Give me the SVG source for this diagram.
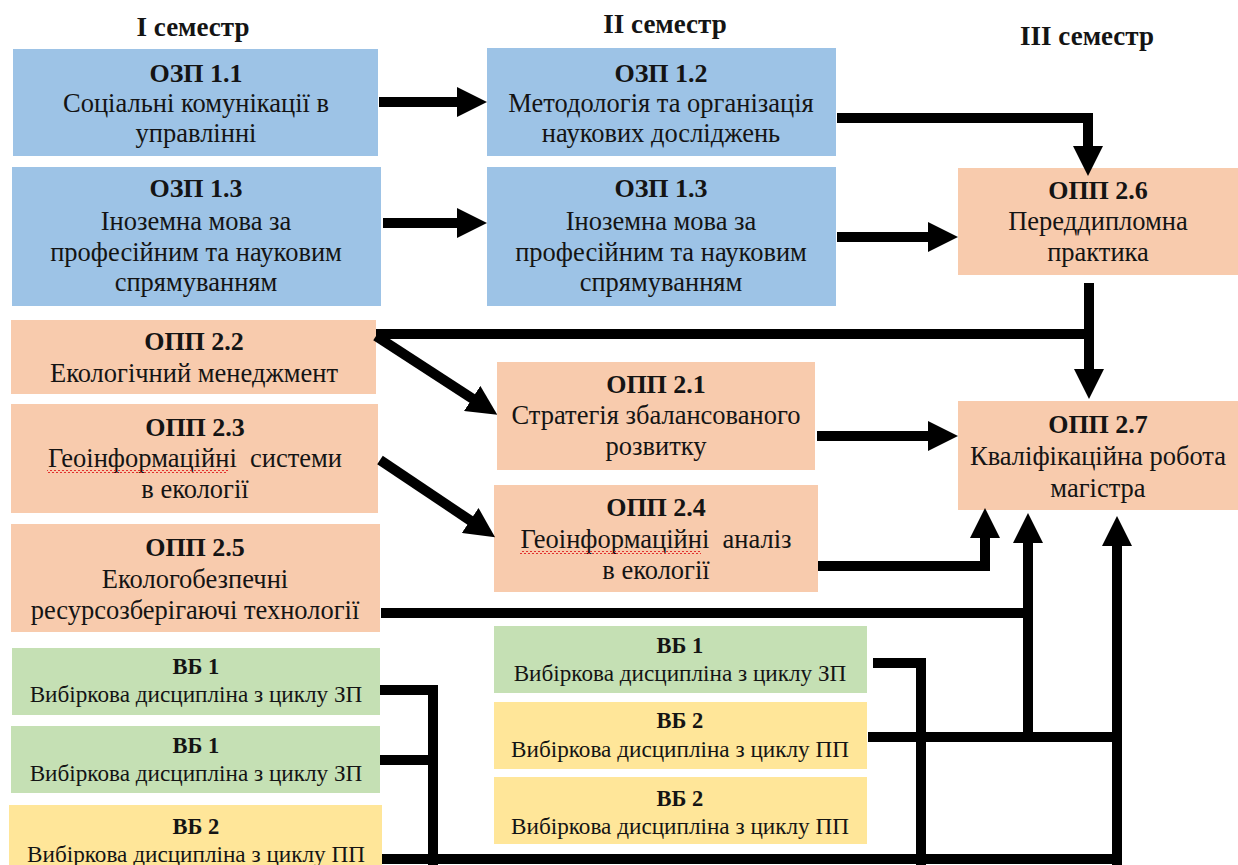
<svg xmlns="http://www.w3.org/2000/svg" width="1238" height="865" viewBox="0 0 1238 865">
<style>
.t{font-family:"Liberation Serif","DejaVu Serif",serif;fill:#141414;text-anchor:middle}
.h{font-size:27px;font-weight:bold}
.b{font-size:26px;font-weight:bold}
.r{font-size:26.5px}
.vb{font-size:22.5px;font-weight:bold}
.vr{font-size:23.2px}
.blue{fill:#9DC3E6}.org{fill:#F8CBAD}.grn{fill:#C5E0B4}.yel{fill:#FFE699}
.c{fill:none;stroke:#000;stroke-width:10;stroke-linejoin:miter}
.a{marker-end:url(#ah)}
</style>
<defs>
<marker id="ah" viewBox="0 0 30 30" markerWidth="30" markerHeight="30" markerUnits="userSpaceOnUse" refX="1" refY="15" orient="auto">
<path d="M0,0 L30,15 L0,30 Z" fill="#000"/>
</marker>
<pattern id="sq" width="4" height="3" patternUnits="userSpaceOnUse">
<path d="M0,2 Q1,0 2,2 T4,2" fill="none" stroke="#e02020" stroke-width="0.9"/>
</pattern>
</defs>
<rect width="1238" height="865" fill="#fff"/>
<g id="headers">
<text class="t h" x="193" y="36">I семестр</text>
<text class="t h" x="665" y="33">II семестр</text>
<text class="t h" x="1087" y="45">III семестр</text>
</g>
<g id="ozp11"><rect class="blue" x="13" y="49" width="365" height="107"/>
<text class="t b" x="196" y="82">ОЗП 1.1</text>
<text class="t r" x="196" y="112">Соціальні комунікації в</text>
<text class="t r" x="196" y="142">управлінні</text></g>
<g id="ozp13a"><rect class="blue" x="12" y="167" width="369" height="139"/>
<text class="t b" x="196" y="197">ОЗП 1.3</text>
<text class="t r" x="196" y="230">Іноземна мова за</text>
<text class="t r" x="196" y="261">професійним та науковим</text>
<text class="t r" x="196" y="291">спрямуванням</text></g>
<g id="ozp12"><rect class="blue" x="487" y="48" width="349" height="108"/>
<text class="t b" x="661" y="82">ОЗП 1.2</text>
<text class="t r" x="661" y="112">Методологія та організація</text>
<text class="t r" x="661" y="142">наукових досліджень</text></g>
<g id="ozp13b"><rect class="blue" x="487" y="167" width="349" height="139"/>
<text class="t b" x="661" y="197">ОЗП 1.3</text>
<text class="t r" x="661" y="230">Іноземна мова за</text>
<text class="t r" x="661" y="261">професійним та науковим</text>
<text class="t r" x="661" y="291">спрямуванням</text></g>
<g id="opp26"><rect class="org" x="958" y="168" width="280" height="107"/>
<text class="t b" x="1098" y="199">ОПП 2.6</text>
<text class="t r" x="1098" y="230">Переддипломна</text>
<text class="t r" x="1098" y="261">практика</text></g>
<g id="opp22"><rect class="org" x="11" y="320" width="365" height="74"/>
<text class="t b" x="194" y="350">ОПП 2.2</text>
<text class="t r" x="194" y="382">Екологічний менеджмент</text></g>
<g id="opp23"><rect class="org" x="11" y="404" width="367" height="109"/>
<text class="t b" x="195" y="436">ОПП 2.3</text>
<text class="t r" x="195" y="467" xml:space="preserve">Геоінформаційні  системи</text>
<text class="t r" x="195" y="498">в екології</text>
<rect x="47" y="470" width="181" height="3" fill="url(#sq)"/></g>
<g id="opp25"><rect class="org" x="11" y="524" width="369" height="108"/>
<text class="t b" x="195" y="556">ОПП 2.5</text>
<text class="t r" x="195" y="588">Екологобезпечні</text>
<text class="t r" x="195" y="619">ресурсозберігаючі технології</text></g>
<g id="opp21"><rect class="org" x="497" y="362" width="318" height="108"/>
<text class="t b" x="656" y="393">ОПП 2.1</text>
<text class="t r" x="656" y="424">Стратегія збалансованого</text>
<text class="t r" x="656" y="455">розвитку</text></g>
<g id="opp24"><rect class="org" x="494" y="485" width="324" height="107"/>
<text class="t b" x="656" y="516">ОПП 2.4</text>
<text class="t r" x="656" y="548" xml:space="preserve">Геоінформаційні  аналіз</text>
<text class="t r" x="656" y="579">в екології</text>
<rect x="520" y="551" width="181" height="3" fill="url(#sq)"/></g>
<g id="opp27"><rect class="org" x="958" y="401" width="280" height="109"/>
<text class="t b" x="1098" y="433">ОПП 2.7</text>
<text class="t r" x="1098" y="465">Кваліфікаційна робота</text>
<text class="t r" x="1098" y="497">магістра</text></g>
<g id="vb1a"><rect class="grn" x="12" y="648" width="368" height="67"/>
<text class="t vb" x="196" y="674">ВБ 1</text>
<text class="t vr" x="196" y="702">Вибіркова дисципліна з циклу ЗП</text></g>
<g id="vb1b"><rect class="grn" x="11" y="726" width="369" height="67"/>
<text class="t vb" x="196" y="753">ВБ 1</text>
<text class="t vr" x="196" y="781">Вибіркова дисципліна з циклу ЗП</text></g>
<g id="vb2a"><rect class="yel" x="9" y="805" width="373" height="60"/>
<text class="t vb" x="196" y="834">ВБ 2</text>
<text class="t vr" x="196" y="862">Вибіркова дисципліна з циклу ПП</text></g>
<g id="vb1c"><rect class="grn" x="494" y="626" width="373" height="67"/>
<text class="t vb" x="680" y="653">ВБ 1</text>
<text class="t vr" x="680" y="681">Вибіркова дисципліна з циклу ЗП</text></g>
<g id="vb2b"><rect class="yel" x="494" y="702" width="373" height="67"/>
<text class="t vb" x="680" y="728">ВБ 2</text>
<text class="t vr" x="680" y="757">Вибіркова дисципліна з циклу ПП</text></g>
<g id="vb2c"><rect class="yel" x="494" y="777" width="373" height="67"/>
<text class="t vb" x="680" y="806">ВБ 2</text>
<text class="t vr" x="680" y="834">Вибіркова дисципліна з циклу ПП</text></g>
<g id="connectors">
<path class="c a" d="M379,102 H458"/>
<path class="c a" d="M383,223 H458"/>
<path class="c a" d="M837,118 H1088 V147"/>
<path class="c a" d="M837,237 H929"/>
<path class="c" d="M376,334 H1089"/>
<path class="c a" d="M1089,283 V370"/>
<path class="c a" d="M376,336 L473,399"/>
<path class="c a" d="M380,460 L471,521"/>
<path class="c a" d="M817,436 H929"/>
<path class="c a" d="M818,566 H985 V537"/>
<path class="c" d="M381,613 H1028"/>
<path class="c a" d="M1028,742 V542"/>
<path class="c a" d="M1117,865 V545"/>
<path class="c" d="M873,663 H921 V865"/>
<path class="c" d="M868,737 H1117"/>
<path class="c" d="M382,859 H1122"/>
<path class="c" d="M380,690 H433 V865"/>
<path class="c" d="M380,760 H433"/>
</g>
</svg>
